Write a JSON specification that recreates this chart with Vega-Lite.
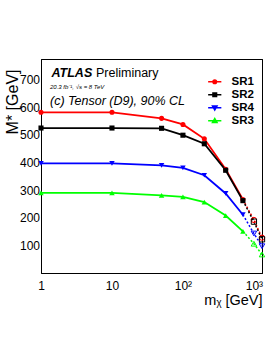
{
  "$schema": "https://vega.github.io/schema/vega-lite/v6.json",
  "width": 221,
  "height": 214,
  "autosize": {"type": "none"},
  "padding": {"left": 41, "top": 59, "right": 14, "bottom": 84},
  "background": "white",
  "config": {
    "view": {"stroke": "black", "strokeWidth": 1},
    "axis": {"grid": false, "domainColor": "black", "tickColor": "black", "tickWidth": 1, "labelColor": "black", "titleColor": "black", "labelFont": "Liberation Sans", "titleFont": "Liberation Sans"},
    "legend": {"orient": "none", "legendX": 168, "legendY": 17, "title": null, "padding": 0, "symbolSize": 36, "symbolStrokeWidth": 1.5, "labelFont": "Liberation Sans", "labelFontWeight": "bold", "labelFontSize": 11.5, "labelColor": "black", "labelOffset": 11, "rowPadding": 0},
    "text": {"font": "Liberation Sans"}
  },
  "data": {
    "values": [
      {"s": "SR1", "mx": 1, "ms": 582}, {"s": "SR1", "mx": 10, "ms": 582}, {"s": "SR1", "mx": 50, "ms": 560}, {"s": "SR1", "mx": 100, "ms": 538}, {"s": "SR1", "mx": 200, "ms": 486}, {"s": "SR1", "mx": 400, "ms": 376}, {"s": "SR1", "mx": 700, "ms": 266}, {"s": "SR1", "mx": 1000, "ms": 192}, {"s": "SR1", "mx": 1300, "ms": 128},
      {"s": "SR2", "mx": 1, "ms": 525}, {"s": "SR2", "mx": 10, "ms": 525}, {"s": "SR2", "mx": 50, "ms": 524}, {"s": "SR2", "mx": 100, "ms": 499}, {"s": "SR2", "mx": 200, "ms": 468}, {"s": "SR2", "mx": 400, "ms": 372}, {"s": "SR2", "mx": 700, "ms": 262}, {"s": "SR2", "mx": 1000, "ms": 186}, {"s": "SR2", "mx": 1300, "ms": 122},
      {"s": "SR4", "mx": 1, "ms": 397}, {"s": "SR4", "mx": 10, "ms": 397}, {"s": "SR4", "mx": 50, "ms": 390}, {"s": "SR4", "mx": 100, "ms": 381}, {"s": "SR4", "mx": 200, "ms": 354}, {"s": "SR4", "mx": 400, "ms": 288}, {"s": "SR4", "mx": 700, "ms": 211}, {"s": "SR4", "mx": 1000, "ms": 143}, {"s": "SR4", "mx": 1300, "ms": 97},
      {"s": "SR3", "mx": 1, "ms": 290}, {"s": "SR3", "mx": 10, "ms": 290}, {"s": "SR3", "mx": 50, "ms": 281}, {"s": "SR3", "mx": 100, "ms": 276}, {"s": "SR3", "mx": 200, "ms": 257}, {"s": "SR3", "mx": 400, "ms": 208}, {"s": "SR3", "mx": 700, "ms": 151}, {"s": "SR3", "mx": 1000, "ms": 106}, {"s": "SR3", "mx": 1300, "ms": 67}
    ]
  },
  "resolve": {"axis": {"x": "independent", "y": "independent"}},
  "layer": [
    {
      "transform": [{"filter": "datum.mx <= 700"}],
      "mark": {"type": "line", "strokeWidth": 1.8},
      "encoding": {
        "x": {"field": "mx", "type": "quantitative", "scale": {"type": "log", "domain": [1, 1300], "nice": false},
          "axis": {"orient": "bottom", "values": [1,2,3,4,5,6,7,8,9,10,20,30,40,50,60,70,80,90,100,200,300,400,500,600,700,800,900,1000],
            "labelExpr": "datum.value == 1 ? '1' : datum.value == 10 ? '10' : datum.value == 100 ? '10²' : datum.value == 1000 ? '10³' : ''",
            "tickSize": 0, "labelPadding": 7, "labelFontSize": 12, "labelOverlap": false, "labelFlush": false,
            "title": "mᵪ [GeV]", "titleX": 221, "titleY": 31.5, "titleAlign": "right", "titleBaseline": "alphabetic", "titleFontSize": 14.5, "titleFontWeight": "normal",
            "encode": {"ticks": {"update": {"y2": {"signal": "indexof([1,10,100,1000], datum.value) >= 0 ? -7 : -4"}}}}}},
        "y": {"field": "ms", "type": "quantitative", "scale": {"domain": [0, 775], "nice": false},
          "axis": {"orient": "left", "values": [0,20,40,60,80,100,120,140,160,180,200,220,240,260,280,300,320,340,360,380,400,420,440,460,480,500,520,540,560,580,600,620,640,660,680,700,720,740,760],
            "labelExpr": "(datum.value % 100 == 0 && datum.value > 0) ? datum.label : ''",
            "tickSize": 0, "labelPadding": 1.5, "labelFontSize": 12, "labelOverlap": false, "labelFlush": false,
            "title": "M* [GeV]", "titleAngle": -90, "titleX": -24, "titleY": 10, "titleAlign": "right", "titleBaseline": "alphabetic", "titleFontSize": 16, "titleFontWeight": "normal",
            "encode": {"ticks": {"update": {"x2": {"signal": "datum.value % 100 == 0 ? 7 : 4"}}}}}},
        "color": {"field": "s", "type": "nominal", "legend": null, "scale": {"domain": ["SR1", "SR2", "SR3", "SR4"], "range": ["#ff0000", "#000000", "#00ff00", "#0000ff"]}}
      }
    },
    {
      "transform": [{"filter": "datum.mx >= 700"}],
      "mark": {"type": "line", "strokeWidth": 1.5, "strokeDash": [2, 2]},
      "encoding": {
        "x": {"field": "mx", "type": "quantitative", "axis": null},
        "y": {"field": "ms", "type": "quantitative", "axis": null},
        "color": {"field": "s", "type": "nominal", "legend": null}
      }
    },
    {
      "transform": [{"filter": "datum.s == 'SR1' && datum.mx <= 700"}],
      "mark": {"type": "point", "shape": "circle", "filled": true, "size": 26, "opacity": 1},
      "encoding": {"x": {"field": "mx", "type": "quantitative", "axis": null}, "y": {"field": "ms", "type": "quantitative", "axis": null}, "color": {"field": "s", "type": "nominal", "legend": null}}
    },
    {
      "transform": [{"filter": "datum.s == 'SR2' && datum.mx <= 700"}],
      "mark": {"type": "point", "shape": "square", "filled": true, "size": 26, "opacity": 1},
      "encoding": {"x": {"field": "mx", "type": "quantitative", "axis": null}, "y": {"field": "ms", "type": "quantitative", "axis": null}, "color": {"field": "s", "type": "nominal", "legend": null}}
    },
    {
      "transform": [{"filter": "datum.s == 'SR4' && datum.mx <= 700"}],
      "mark": {"type": "point", "shape": "triangle-down", "filled": true, "size": 30, "opacity": 1},
      "encoding": {"x": {"field": "mx", "type": "quantitative", "axis": null}, "y": {"field": "ms", "type": "quantitative", "axis": null}, "color": {"field": "s", "type": "nominal", "legend": null}}
    },
    {
      "transform": [{"filter": "datum.s == 'SR3' && datum.mx <= 700"}],
      "mark": {"type": "point", "shape": "triangle-up", "filled": true, "size": 30, "opacity": 1},
      "encoding": {"x": {"field": "mx", "type": "quantitative", "axis": null}, "y": {"field": "ms", "type": "quantitative", "axis": null}, "color": {"field": "s", "type": "nominal", "legend": null}}
    },
    {
      "transform": [{"filter": "datum.s == 'SR1' && datum.mx > 700"}],
      "mark": {"type": "point", "shape": "circle", "filled": false, "size": 28, "strokeWidth": 1, "opacity": 1},
      "encoding": {
        "x": {"field": "mx", "type": "quantitative",
          "axis": {"orient": "top", "values": [1,2,3,4,5,6,7,8,9,10,20,30,40,50,60,70,80,90,100,200,300,400,500,600,700,800,900,1000], "labels": false, "title": null, "tickSize": 0,
            "encode": {"ticks": {"update": {"y2": {"signal": "indexof([1,10,100,1000], datum.value) >= 0 ? 7 : 4"}}}}}},
        "y": {"field": "ms", "type": "quantitative",
          "axis": {"orient": "right", "values": [0,20,40,60,80,100,120,140,160,180,200,220,240,260,280,300,320,340,360,380,400,420,440,460,480,500,520,540,560,580,600,620,640,660,680,700,720,740,760], "labels": false, "title": null, "tickSize": 0,
            "encode": {"ticks": {"update": {"x2": {"signal": "datum.value % 100 == 0 ? -7 : -4"}}}}}},
        "color": {"field": "s", "type": "nominal", "legend": null}
      }
    },
    {
      "transform": [{"filter": "datum.s == 'SR2' && datum.mx > 700"}],
      "mark": {"type": "point", "shape": "square", "filled": false, "size": 28, "strokeWidth": 1, "opacity": 1},
      "encoding": {"x": {"field": "mx", "type": "quantitative", "axis": null}, "y": {"field": "ms", "type": "quantitative", "axis": null}, "color": {"field": "s", "type": "nominal", "legend": null}}
    },
    {
      "transform": [{"filter": "datum.s == 'SR4' && datum.mx > 700"}],
      "mark": {"type": "point", "shape": "triangle-down", "filled": false, "size": 30, "strokeWidth": 1, "opacity": 1},
      "encoding": {"x": {"field": "mx", "type": "quantitative", "axis": null}, "y": {"field": "ms", "type": "quantitative", "axis": null}, "color": {"field": "s", "type": "nominal", "legend": null}}
    },
    {
      "transform": [{"filter": "datum.s == 'SR3' && datum.mx > 700"}],
      "mark": {"type": "point", "shape": "triangle-up", "filled": false, "size": 30, "strokeWidth": 1, "opacity": 1},
      "encoding": {"x": {"field": "mx", "type": "quantitative", "axis": null}, "y": {"field": "ms", "type": "quantitative", "axis": null}, "color": {"field": "s", "type": "nominal", "legend": null}}
    },
    {
      "transform": [{"filter": "false"}],
      "mark": {"type": "point", "filled": true, "opacity": 1},
      "encoding": {
        "fill": {"field": "s", "type": "nominal", "scale": {"domain": ["SR1", "SR2", "SR4", "SR3"], "range": ["#ff0000", "#000000", "#0000ff", "#00ff00"]}},
        "stroke": {"field": "s", "type": "nominal", "scale": {"domain": ["SR1", "SR2", "SR4", "SR3"], "range": ["#ff0000", "#000000", "#0000ff", "#00ff00"]}},
        "shape": {"field": "s", "type": "nominal", "scale": {"domain": ["SR1", "SR2", "SR4", "SR3"], "range": [
          "M-2.2,0H2.2M-0.6,0A0.6,0.6,0,1,1,0.6,0A0.6,0.6,0,1,1,-0.6,0Z",
          "M-2.2,0H2.2M-0.6,-0.6H0.6V0.6H-0.6Z",
          "M-2.2,0H2.2M-0.75,-0.55L0.75,-0.55L0,0.75Z",
          "M-2.2,0H2.2M-0.75,0.55L0.75,0.55L0,-0.75Z"]}}
      }
    },
    {
      "data": {"values": [{}]},
      "mark": {"type": "text", "text": "ATLAS", "x": 10.5, "y": 18, "align": "left", "baseline": "alphabetic", "fontSize": 12.5, "fontWeight": "bold", "fontStyle": "italic", "color": "black"},
      "encoding": {}
    },
    {
      "data": {"values": [{}]},
      "mark": {"type": "text", "text": "Preliminary", "x": 55, "y": 18, "align": "left", "baseline": "alphabetic", "fontSize": 12.5, "color": "black"},
      "encoding": {}
    },
    {
      "data": {"values": [{}]},
      "mark": {"type": "text", "text": "20.3 fb⁻¹, √s = 8 TeV", "x": 9, "y": 29.7, "align": "left", "baseline": "alphabetic", "fontSize": 6, "fontStyle": "italic", "color": "black"},
      "encoding": {}
    },
    {
      "data": {"values": [{}]},
      "mark": {"type": "text", "text": "(c) Tensor (D9), 90% CL", "x": 9, "y": 46.3, "align": "left", "baseline": "alphabetic", "fontSize": 12.5, "fontStyle": "italic", "color": "black"},
      "encoding": {}
    }
  ]
}
